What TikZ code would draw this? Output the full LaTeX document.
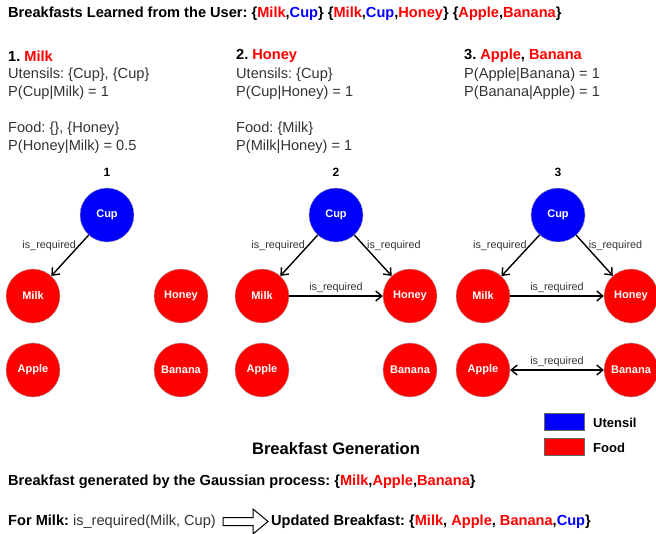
\documentclass[tikz,border=0pt]{standalone}
\usepackage{fontspec}
\setmainfont{Liberation Sans}
\usetikzlibrary{arrows.meta}
\definecolor{foodred}{HTML}{FF0000}
\definecolor{utenblue}{HTML}{0000FF}
\definecolor{txtgray}{HTML}{333333}
\newcommand{\food}[1]{\textcolor{foodred}{#1}}
\newcommand{\uten}[1]{\textcolor{utenblue}{#1}}
\frenchspacing
\tikzset{
  vertex/.style={circle,minimum size=54pt,inner sep=0pt,draw=black!35,
    font=\fontsize{11}{12}\selectfont\bfseries,text=white},
  food/.style={vertex,fill=foodred},
  utensil/.style={vertex,fill=utenblue},
  rel/.style={line width=1.4pt,-{Straight Barb[length=6pt,width=10pt]}},
  relboth/.style={line width=1.4pt,{Straight Barb[length=6pt,width=10pt]}-{Straight Barb[length=6pt,width=10pt]}},
  rellabel/.style={font=\fontsize{10.8}{12}\selectfont,text=txtgray,inner sep=2pt},
  heading/.style={anchor=west,inner sep=0pt,font=\fontsize{14.6}{16}\selectfont\bfseries},
  info/.style={anchor=north west,align=left,inner sep=0pt,
    font=\fontsize{14.6}{18}\selectfont,text=txtgray},
  plain/.style={anchor=west,inner sep=0pt,font=\fontsize{14.6}{16}\selectfont\bfseries},
  legtext/.style={anchor=west,inner sep=0pt,font=\fontsize{13}{16}\selectfont\bfseries}
}

\begin{document}
\begin{tikzpicture}[x=1pt, y=-1pt]
    \useasboundingbox (0,0) rectangle (656,533);

    % learned breakfasts
    \node[plain] (title) at (8,14) {Breakfasts Learned from the User: \{\food{Milk},\uten{Cup}\} \{\food{Milk},\uten{Cup},\food{Honey}\} \{\food{Apple},\food{Banana}\}};

    \node[heading] (H_1) at (8,56)   {1. \food{Milk}};
    \node[heading] (H_2) at (236,56) {2. \food{Honey}};
    \node[heading] (H_3) at (464,56) {3. \food{Apple}, \food{Banana}};

    \node[info] (I_1) at (8,68)   {Utensils: \{Cup\}, \{Cup\}\\ P(Cup|Milk) = 1\\[18pt] Food: \{\}, \{Honey\}\\ P(Honey|Milk) = 0.5};
    \node[info] (I_2) at (236,68) {Utensils: \{Cup\}\\ P(Cup|Honey) = 1\\[18pt] Food: \{Milk\}\\ P(Milk|Honey) = 1};
    \node[info] (I_3) at (464,68) {P(Apple|Banana) = 1\\ P(Banana|Apple) = 1};

    % graph 1
    \node[font=\fontsize{12}{14}\selectfont\bfseries] (N_1) at (107,172) {1};
    \node[utensil] (A_cup)    at (107,215) {Cup};
    \node[food]    (A_milk)   at (33,296)  {Milk};
    \node[food]    (A_honey)  at (181,296) {Honey};
    \node[food]    (A_apple)  at (33,370)  {Apple};
    \node[food]    (A_banana) at (181,370) {Banana};
    \draw[rel] (A_cup) -- node[rellabel,pos=0.27,anchor=east] {is\_required} (A_milk);

    % graph 2
    \node[font=\fontsize{12}{14}\selectfont\bfseries] (N_2) at (336,172) {2};
    \node[utensil] (B_cup)    at (336,215) {Cup};
    \node[food]    (B_milk)   at (262,296) {Milk};
    \node[food]    (B_honey)  at (410,296) {Honey};
    \node[food]    (B_apple)  at (262,370) {Apple};
    \node[food]    (B_banana) at (410,370) {Banana};
    \draw[rel] (B_cup) -- node[rellabel,pos=0.27,anchor=east] {is\_required} (B_milk);
    \draw[rel] (B_cup) -- node[rellabel,pos=0.27,anchor=west] {is\_required} (B_honey);
    \draw[rel] (B_milk) -- node[rellabel,above=1pt] {is\_required} (B_honey);

    % graph 3
    \node[font=\fontsize{12}{14}\selectfont\bfseries] (N_3) at (558,172) {3};
    \node[utensil] (C_cup)    at (558,215) {Cup};
    \node[food]    (C_milk)   at (483,296) {Milk};
    \node[food]    (C_honey)  at (631,296) {Honey};
    \node[food]    (C_apple)  at (483,370) {Apple};
    \node[food]    (C_banana) at (631,370) {Banana};
    \draw[rel] (C_cup) -- node[rellabel,pos=0.27,anchor=east] {is\_required} (C_milk);
    \draw[rel] (C_cup) -- node[rellabel,pos=0.27,anchor=west] {is\_required} (C_honey);
    \draw[rel] (C_milk) -- node[rellabel,above=1pt] {is\_required} (C_honey);
    \draw[relboth] (C_apple) -- node[rellabel,above=1pt] {is\_required} (C_banana);

    % legend
    \node[draw=black!60,fill=utenblue,minimum width=40pt,minimum height=17pt,inner sep=0pt] (L_uten) at (564,422) {};
    \node[draw=black!60,fill=foodred,minimum width=40pt,minimum height=17pt,inner sep=0pt] (L_food) at (564,447) {};
    \node[legtext] (L_utentxt) at (593,423) {Utensil};
    \node[legtext] (L_foodtxt) at (593,448) {Food};

    % generation
    \node[font=\fontsize{16.6}{18}\selectfont\bfseries] (gen) at (336,449) {Breakfast Generation};
    \node[plain] (G_1) at (8,482) {Breakfast generated by the Gaussian process: \{\food{Milk},\food{Apple},\food{Banana}\}};
    \node[plain] (G_2) at (8,522) {For Milk: \textmd{\textcolor{txtgray}{is\_required(Milk, Cup)}}};
    \draw[line width=1pt] (223,517.5) -- (253,517.5) -- (253,509) -- (268,521.5) -- (253,534) -- (253,525.5) -- (223,525.5) -- cycle;
    \node[plain] (G_3) at (271,522) {Updated Breakfast: \{\food{Milk}, \food{Apple}, \food{Banana},\uten{Cup}\}};
\end{tikzpicture}
\end{document}
